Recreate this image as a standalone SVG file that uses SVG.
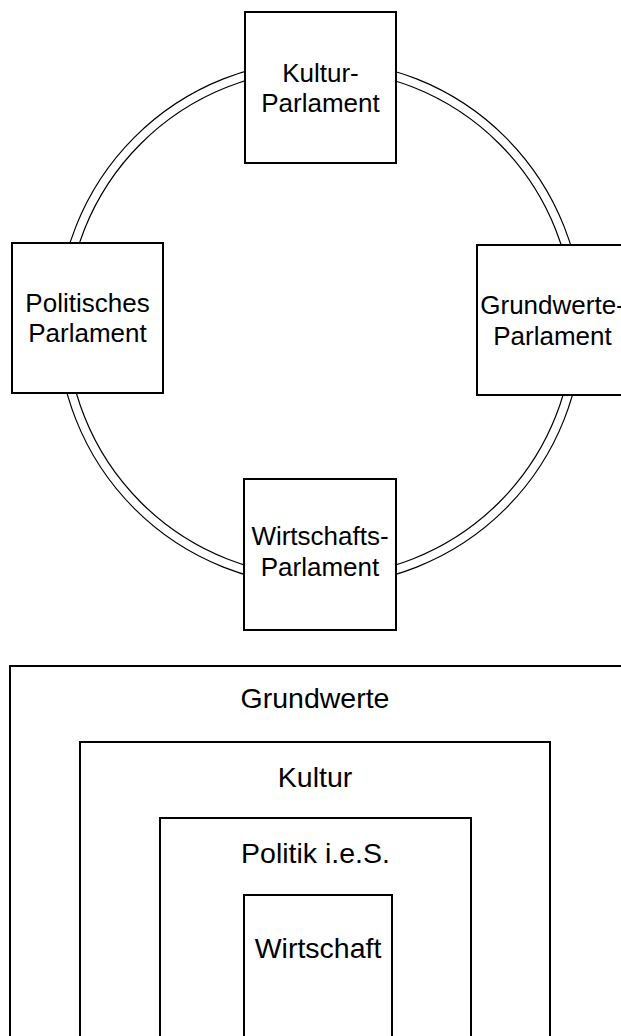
<svg xmlns="http://www.w3.org/2000/svg" width="621" height="1036" viewBox="0 0 621 1036">
<style>
.box{fill:#fff;stroke:#000;stroke-width:2}
.ring{fill:none;stroke:#000;stroke-width:1.2}
.t{font-family:"Liberation Sans",Arial,sans-serif;font-size:26px;fill:#000;text-anchor:middle}
.t2{font-family:"Liberation Sans",Arial,sans-serif;font-size:28.5px;fill:#000;text-anchor:middle}
</style>
<rect width="621" height="1036" fill="#fff"/>
<g id="connectors">
<circle class="ring" cx="320" cy="323" r="262.5"/>
<circle class="ring" cx="320" cy="323" r="253.5"/>
</g>
<g id="kultur-parlament">
<rect class="box" x="245" y="12" width="151" height="151"/>
<text class="t" x="320.5" y="82">Kultur-</text>
<text class="t" x="320.5" y="112">Parlament</text>
</g>
<g id="politisches-parlament">
<rect class="box" x="12" y="243" width="151" height="150"/>
<text class="t" x="87.5" y="312">Politisches</text>
<text class="t" x="87.5" y="342">Parlament</text>
</g>
<g id="grundwerte-parlament">
<rect class="box" x="477" y="245" width="151" height="150"/>
<text class="t" x="552.5" y="314">Grundwerte-</text>
<text class="t" x="552.5" y="345">Parlament</text>
</g>
<g id="wirtschafts-parlament">
<rect class="box" x="244" y="479" width="152" height="151"/>
<text class="t" x="320" y="545">Wirtschafts-</text>
<text class="t" x="320" y="576">Parlament</text>
</g>
<g id="grundwerte">
<rect class="box" x="10" y="666" width="620" height="400"/>
<text class="t2" x="315" y="708">Grundwerte</text>
</g>
<g id="kultur">
<rect class="box" x="80" y="742" width="470" height="330"/>
<text class="t2" x="315" y="787">Kultur</text>
</g>
<g id="politik">
<rect class="box" x="160" y="818" width="311" height="260"/>
<text class="t2" x="315.5" y="863">Politik i.e.S.</text>
</g>
<g id="wirtschaft">
<rect class="box" x="244" y="895" width="148" height="200"/>
<text class="t2" x="318" y="958">Wirtschaft</text>
</g>
</svg>
